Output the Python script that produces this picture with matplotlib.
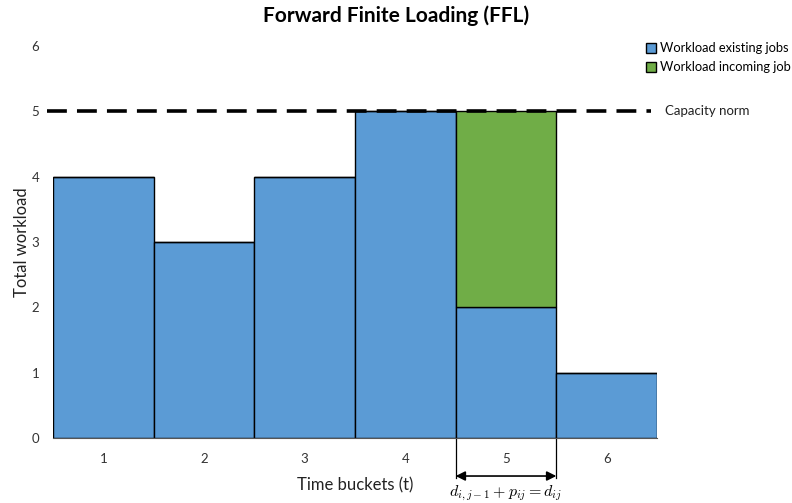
import matplotlib
matplotlib.use("Agg")
import matplotlib.pyplot as plt

plt.rcParams['font.family'] = ['Lato', 'DejaVu Sans']
plt.rcParams['mathtext.fontset'] = 'cm'

buckets = [1, 2, 3, 4, 5, 6]
existing = [4, 3, 4, 5, 2, 1]
incoming = [0, 0, 0, 0, 3, 0]
capacity = 5

fig = plt.figure(figsize=(7.92, 5.03), dpi=100)
ax = fig.add_axes([53/792, 1-438/503, 604/792, 392/503])

ax.bar(buckets, existing, width=1.0, color='#5B9BD5', edgecolor='black', linewidth=1.0,
       label='Workload existing jobs', zorder=2)
ax.bar(buckets, incoming, width=1.0, bottom=existing, color='#70AD47', edgecolor='black',
       linewidth=1.0, label='Workload incoming job', zorder=2)

ax.set_xlim(0.5, 6.5)
ax.set_ylim(0, 6)
ax.set_yticks(range(0, 7))
ax.set_xticks(buckets)
ax.tick_params(length=0, labelsize=9.5, colors='#333333')
ax.tick_params(axis='y', pad=10)
ax.tick_params(axis='x', pad=11)
for s in ['top', 'right', 'left']:
    ax.spines[s].set_visible(False)
ax.spines['bottom'].set_color('#555555')

# capacity line extending beyond axes
ax.plot([0.44, 6.44], [capacity, capacity], color='black', lw=2.6,
        dashes=(5.5, 2.8), clip_on=False, zorder=3)
ax.text(6.58, capacity, 'Capacity norm', va='center', ha='left', fontsize=9.5, color='#222222')

ax.set_xlabel('Time buckets (t)', fontsize=12, labelpad=9, color='#222222')
ax.set_ylabel('Total workload', fontsize=12, labelpad=1, color='#222222')
fig.text(0.5, 0.968, 'Forward Finite Loading (FFL)', ha='center', va='center',
         fontsize=15, fontweight='bold')

leg = ax.legend(loc='upper left', bbox_to_anchor=(0.982, 1.01), frameon=False,
                fontsize=9.3, handlelength=0.8, handleheight=0.8, handletextpad=0.3,
                labelspacing=0.55, borderaxespad=0, borderpad=0)

# arrow annotation under bucket 5
trans = ax.get_xaxis_transform()
for xv in [4.5, 5.5]:
    ax.plot([xv, xv], [0, -0.102], transform=trans, color='black', lw=0.9, clip_on=False)
ax.annotate('', xy=(4.5, -0.097), xytext=(5.5, -0.097), xycoords=trans, textcoords=trans,
            arrowprops=dict(arrowstyle='<|-|>', color='black', lw=1.2,
                            mutation_scale=14, shrinkA=0, shrinkB=0))
ax.text(5.0, -0.14, r'$d_{i,j-1} + p_{ij} = d_{ij}$', transform=trans, ha='center',
        va='center', fontsize=11.5)

fig.savefig('out.png', dpi=100)
